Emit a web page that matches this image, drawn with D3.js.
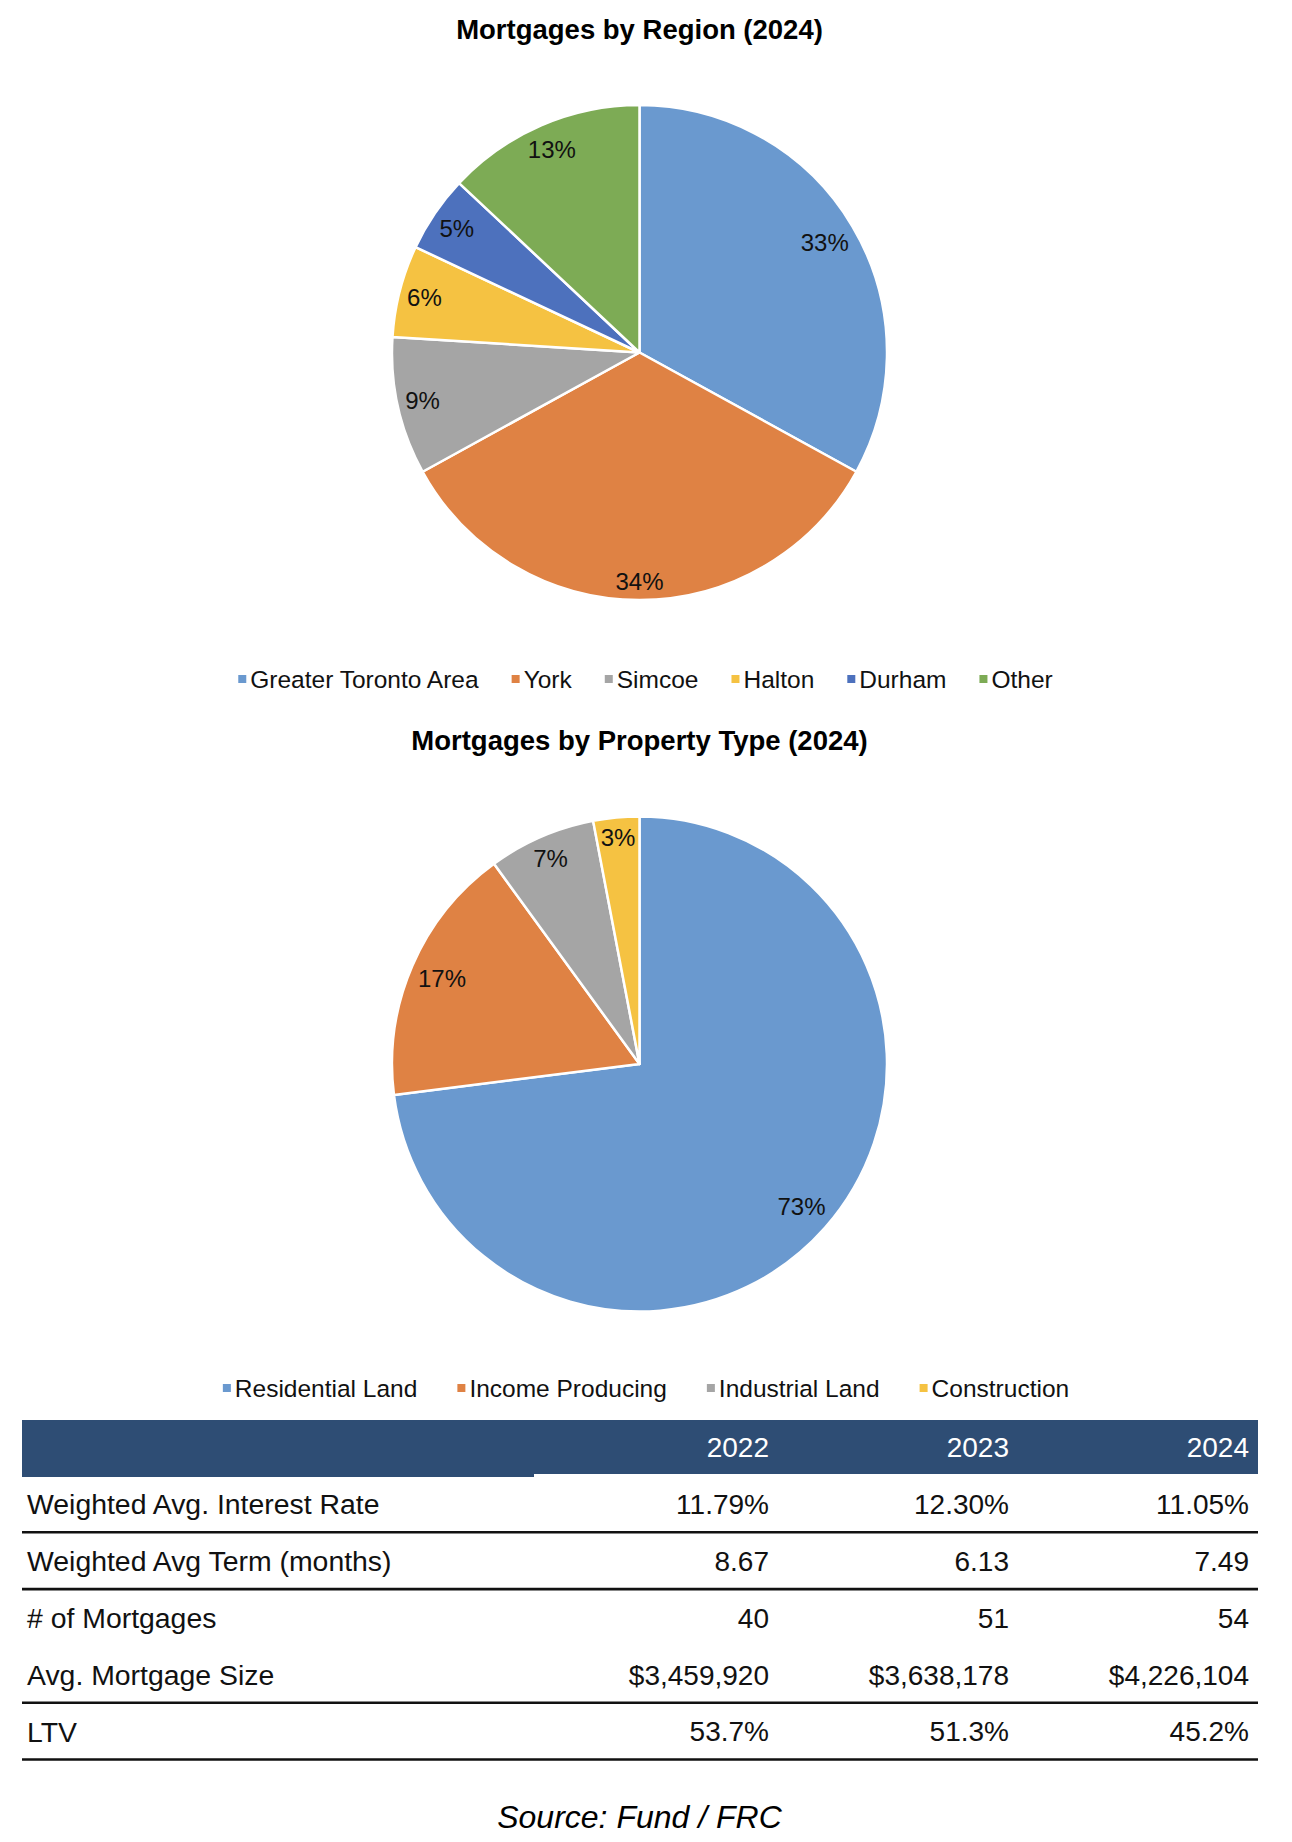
<!DOCTYPE html>
<html>
<head>
<meta charset="utf-8">
<script src="https://cdn.jsdelivr.net/npm/d3@7"></script>
<style>
  html, body { margin: 0; padding: 0; background: #ffffff; }
  svg { display: block; }
  text { font-family: "Liberation Sans", Arial, sans-serif; }
</style>
</head>
<body>
<svg id="chart" width="1292" height="1842"></svg>
<script>
// ---------- data ----------
const regionTitle = "Mortgages by Region (2024)";
const regionLabels = ["Greater Toronto Area", "York", "Simcoe", "Halton", "Durham", "Other"];
const regionValues = [33, 34, 9, 6, 5, 13];
const regionColors = ["#6A99CF", "#DF8244", "#A5A5A5", "#F5C242", "#4D71BD", "#7DAB55"];

const typeTitle = "Mortgages by Property Type (2024)";
const typeLabels = ["Residential Land", "Income Producing", "Industrial Land", "Construction"];
const typeValues = [73, 17, 7, 3];
const typeColors = ["#6A99CF", "#DF8244", "#A5A5A5", "#F5C242"];

const tableYears = ["2022", "2023", "2024"];
const tableRowLabels = ["Weighted Avg. Interest Rate", "Weighted Avg Term (months)", "# of Mortgages", "Avg. Mortgage Size", "LTV"];
const interestRate = ["11.79%", "12.30%", "11.05%"];
const avgTerm = ["8.67", "6.13", "7.49"];
const numMortgages = ["40", "51", "54"];
const avgSize = ["$3,459,920", "$3,638,178", "$4,226,104"];
const ltv = ["53.7%", "51.3%", "45.2%"];
const tableRuleAfter = [true, true, false, true, true];
const sourceText = "Source: Fund / FRC";

// ---------- drawing ----------
const svg = d3.select("#chart");
const cx = 639.5;
const R = 247.5;
const labelFont = 24;
const labelFit = 242;   // outer corner of each label box sits at this radius (inside-end placement)

function drawPie(title, titleY, cy, labels, values, colors, legendY, legendGap, legendCx) {
  svg.append("text")
    .attr("x", cx).attr("y", titleY)
    .attr("text-anchor", "middle")
    .attr("font-size", 27.5).attr("font-weight", "bold")
    .attr("fill", "#000")
    .text(title);

  const pie = d3.pie().sort(null).value(d => d)(values);
  const arc = d3.arc().innerRadius(0).outerRadius(R);
  const g = svg.append("g").attr("transform", `translate(${cx},${cy})`);
  g.selectAll("path").data(pie).join("path")
    .attr("d", arc)
    .attr("fill", (d, i) => colors[i])
    .attr("stroke", "#ffffff")
    .attr("stroke-width", 2.5)
    .attr("stroke-linejoin", "round");

  const lbl = g.selectAll("text").data(pie).join("text")
    .attr("text-anchor", "middle")
    .attr("dy", "0.35em")
    .attr("font-size", labelFont)
    .attr("fill", "#111")
    .text(d => d.data + "%");
  lbl.attr("transform", function(d) {
    const a = (d.startAngle + d.endAngle) / 2;
    const ux = Math.sin(a), uy = -Math.cos(a);
    const hw = this.getComputedTextLength() / 2, hh = labelFont / 2;
    let lo = 0, hi = R;
    for (let k = 0; k < 40; k++) {
      const t = (lo + hi) / 2;
      const px = t * ux, py = t * uy;
      const far = Math.hypot(Math.abs(px) + hw, Math.abs(py) + hh);
      if (far > labelFit) hi = t; else lo = t;
    }
    return `translate(${lo * ux},${lo * uy})`;
  });

  // legend
  const lg = svg.append("g");
  const items = lg.selectAll("g").data(labels).join("g");
  items.append("rect")
    .attr("width", 8).attr("height", 8)
    .attr("y", -4)
    .attr("fill", (d, i) => colors[i]);
  items.append("text")
    .attr("x", 12).attr("dy", "0.35em")
    .attr("font-size", 24.5).attr("fill", "#111")
    .text(d => d);
  const widths = [];
  items.each(function() {
    widths.push(12 + d3.select(this).select("text").node().getComputedTextLength());
  });
  const total = d3.sum(widths) + legendGap * (widths.length - 1);
  let start = legendCx - total / 2;
  items.attr("transform", (d, i) => {
    const t = `translate(${start},${legendY})`;
    start += widths[i] + legendGap;
    return t;
  });
}

drawPie(regionTitle, 39, 352.5, regionLabels, regionValues, regionColors, 679, 33, 645.5);
drawPie(typeTitle, 750, 1064, typeLabels, typeValues, typeColors, 1388, 40, 646);

// ---------- table ----------
const tLeft = 22, tRight = 1258;
const rows = [interestRate, avgTerm, numMortgages, avgSize, ltv];
const headTop = 1420, headBottom = 1474;

svg.append("rect")
  .attr("x", tLeft).attr("y", headTop)
  .attr("width", tRight - tLeft).attr("height", headBottom - headTop)
  .attr("fill", "#2E4D74");
svg.append("rect")
  .attr("x", tLeft).attr("y", headBottom)
  .attr("width", 512).attr("height", 3)
  .attr("fill", "#2E4D74");

const colX = d3.scaleLinear().domain([0, 2]).range([769, 1249]);
svg.append("g").selectAll("text").data(tableYears).join("text")
  .attr("x", (d, i) => colX(i))
  .attr("y", (headTop + headBottom) / 2)
  .attr("dy", "0.35em")
  .attr("text-anchor", "end")
  .attr("font-size", 28)
  .attr("fill", "#ffffff")
  .text(d => d);

const rowY = d3.scaleBand().domain(d3.range(rows.length)).range([1476, 1760]).padding(0);
const bw = rowY.bandwidth();
const rg = svg.append("g").selectAll("g").data(rows).join("g")
  .attr("transform", (d, i) => `translate(0,${rowY(i)})`);
rg.append("text")
  .attr("x", 27).attr("y", bw / 2).attr("dy", "0.35em")
  .attr("font-size", 28.4).attr("fill", "#111")
  .text((d, i) => tableRowLabels[i]);
rg.selectAll("text.v").data(d => d).join("text")
  .attr("class", "v")
  .attr("x", (d, i) => colX(i))
  .attr("y", bw / 2).attr("dy", "0.35em")
  .attr("text-anchor", "end")
  .attr("font-size", 28).attr("fill", "#111")
  .text(d => d);
rg.filter((d, i) => tableRuleAfter[i]).append("line")
  .attr("x1", tLeft).attr("x2", tRight)
  .attr("y1", bw - 0.5).attr("y2", bw - 0.5)
  .attr("stroke", "#111").attr("stroke-width", 2.6);

svg.append("text")
  .attr("x", cx).attr("y", 1817).attr("dy", "0.35em")
  .attr("text-anchor", "middle")
  .attr("font-size", 32).attr("font-style", "italic")
  .attr("fill", "#000")
  .text(sourceText);
</script>
</body>
</html>
